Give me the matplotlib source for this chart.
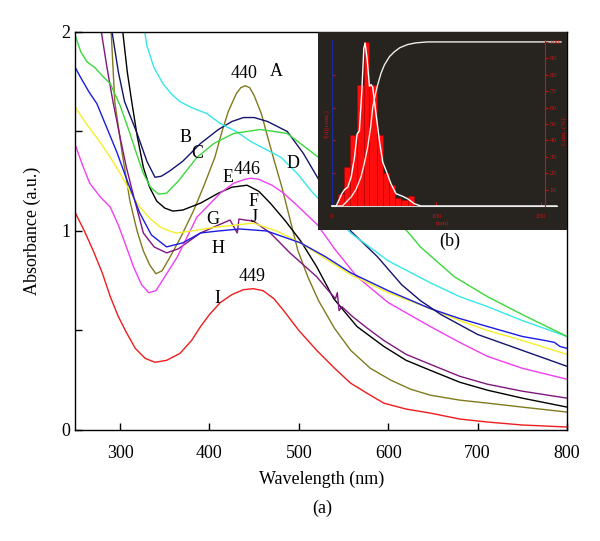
import matplotlib
matplotlib.use('Agg')
import matplotlib.pyplot as plt
import numpy as np

plt.rcParams['font.family'] = ['Liberation Serif', 'DejaVu Serif']

# ---- UV-vis spectra (wavelength nm, absorbance a.u.) ----
wl_A = [286, 290, 294, 302, 311, 319, 326, 333, 340, 347, 356, 368, 382, 394, 406, 414, 421, 430, 435, 440, 445, 450, 458, 464, 472, 481, 490, 499, 510, 522, 540, 558, 580, 603, 625, 647, 680, 711, 750, 800]
abs_A = [2.15, 2.0, 1.65, 1.40, 1.15, 1.0, 0.90, 0.83, 0.785, 0.80, 0.87, 0.97, 1.10, 1.23, 1.37, 1.50, 1.60, 1.69, 1.72, 1.73, 1.72, 1.68, 1.59, 1.49, 1.36, 1.22, 1.06, 0.90, 0.77, 0.65, 0.51, 0.40, 0.31, 0.25, 0.205, 0.175, 0.15, 0.135, 0.115, 0.09]

wl_B = [288, 291, 298, 305, 319, 330, 339, 346, 355, 370, 390, 410, 425, 438, 450, 465, 487, 505, 522, 540, 558, 588, 615, 636, 659, 700, 750, 800]
abs_B = [2.15, 2.0, 1.80, 1.65, 1.49, 1.35, 1.27, 1.275, 1.30, 1.35, 1.44, 1.51, 1.55, 1.57, 1.57, 1.55, 1.50, 1.39, 1.26, 1.13, 1.0, 0.87, 0.73, 0.65, 0.58, 0.48, 0.40, 0.32]

wl_C = [250, 256, 263, 272, 280, 289, 300, 311, 319, 326, 334, 343, 352, 365, 386, 405, 427, 457, 487, 522, 560, 600, 621, 636, 674, 711, 750, 800]
abs_C = [1.98, 1.90, 1.85, 1.82, 1.78, 1.74, 1.63, 1.49, 1.38, 1.29, 1.22, 1.185, 1.19, 1.25, 1.37, 1.44, 1.49, 1.51, 1.49, 1.37, 1.20, 1.08, 1.0, 0.92, 0.77, 0.67, 0.58, 0.47]

wl_D = [324, 330, 338, 348, 357, 367, 380, 397, 412, 430, 446, 463, 480, 498, 516, 537, 558, 600, 647, 680, 711, 750, 800]
abs_D = [2.1, 1.93, 1.82, 1.74, 1.69, 1.65, 1.62, 1.59, 1.54, 1.50, 1.45, 1.41, 1.37, 1.29, 1.19, 1.09, 0.99, 0.85, 0.74, 0.67, 0.62, 0.55, 0.47]

wl_E = [250, 258, 266, 278, 289, 298, 307, 315, 324, 332, 340, 350, 364, 375, 386, 397, 412, 427, 440, 446, 455, 470, 483, 500, 521, 540, 565, 600, 647, 680, 711, 750, 800]
abs_E = [1.43, 1.33, 1.24, 1.17, 1.12, 1.03, 0.92, 0.82, 0.73, 0.69, 0.70, 0.77, 0.87, 0.97, 1.07, 1.12, 1.19, 1.24, 1.26, 1.265, 1.26, 1.23, 1.19, 1.12, 1.03, 0.91, 0.77, 0.64, 0.52, 0.44, 0.37, 0.31, 0.255]

wl_F = [301, 303, 308, 313, 319, 326, 333, 341, 350, 359, 370, 390, 410, 425, 442, 455, 468, 485, 502, 520, 539, 565, 595, 620, 647, 680, 711, 750, 800]
abs_F = [2.15, 2.0, 1.80, 1.65, 1.48, 1.32, 1.22, 1.15, 1.115, 1.10, 1.105, 1.14, 1.19, 1.22, 1.23, 1.20, 1.14, 1.05, 0.95, 0.82, 0.66, 0.52, 0.42, 0.35, 0.30, 0.24, 0.20, 0.16, 0.115]

wl_G = [276, 279, 285, 292, 300, 307, 316, 326, 338, 352, 365, 390, 405, 423, 431, 433, 440, 449, 468, 490, 505, 520, 533, 541, 543, 545, 548, 560, 577, 595, 620, 647, 680, 711, 750, 800]
abs_G = [2.1, 2.0, 1.83, 1.65, 1.47, 1.32, 1.16, 0.99, 0.92, 0.89, 0.91, 0.99, 1.02, 1.055, 0.99, 1.06, 1.055, 1.05, 0.99, 0.89, 0.83, 0.77, 0.70, 0.66, 0.69, 0.60, 0.62, 0.57, 0.51, 0.45, 0.38, 0.33, 0.27, 0.23, 0.195, 0.16]

wl_H = [250, 256, 265, 274, 285, 296, 309, 322, 335, 352, 370, 390, 410, 434, 464, 502, 530, 558, 600, 647, 680, 711, 750, 775, 786, 792, 800]
abs_H = [1.82, 1.77, 1.70, 1.64, 1.52, 1.40, 1.24, 1.09, 0.98, 0.92, 0.94, 0.99, 1.0, 1.01, 1.0, 0.94, 0.87, 0.79, 0.70, 0.61, 0.56, 0.52, 0.47, 0.45, 0.44, 0.42, 0.41]

wl_J = [250, 262, 277, 289, 300, 311, 322, 334, 345, 355, 363, 380, 408, 430, 449, 475, 502, 530, 558, 600, 647, 680, 711, 750, 800]
abs_J = [1.62, 1.54, 1.45, 1.37, 1.29, 1.20, 1.12, 1.06, 1.02, 1.0, 0.99, 1.0, 1.02, 1.03, 1.04, 1.0, 0.94, 0.86, 0.78, 0.69, 0.61, 0.55, 0.50, 0.45, 0.38]

wl_I = [250, 260, 270, 280, 289, 298, 307, 317, 328, 339, 352, 367, 380, 390, 400, 412, 425, 438, 449, 460, 472, 483, 500, 520, 540, 558, 578, 595, 620, 647, 680, 711, 750, 800]
abs_I = [1.09, 1.0, 0.90, 0.79, 0.67, 0.57, 0.49, 0.41, 0.36, 0.34, 0.35, 0.385, 0.45, 0.52, 0.58, 0.64, 0.68, 0.705, 0.71, 0.70, 0.66, 0.60, 0.50, 0.40, 0.31, 0.235, 0.18, 0.135, 0.105, 0.085, 0.055, 0.04, 0.025, 0.015]

# curve labels: text, wavelength, absorbance
labels = [('440', 439, 1.79), ('A', 475, 1.80), ('B', 373, 1.47), ('C', 386, 1.39),
          ('D', 493, 1.34), ('E', 421, 1.27), ('446', 442, 1.31), ('F', 449, 1.15),
          ('G', 404, 1.06), ('J', 450, 1.07), ('H', 410, 0.91), ('449', 448, 0.77),
          ('I', 409, 0.66)]

# ---- inset: size distribution ----
bin_edges = [5.5, 11.5, 17.5, 23.7, 30.3, 35.3, 42.8, 48.6, 54.3, 60.2, 66.5, 72.4, 78.2]
bin_pct = [7, 24, 43, 74, 100, 74, 43, 20, 12.5, 5, 3.5, 6]
freq_d = [0, 4.1, 7.3, 9.5, 12.1, 15.2, 18.4, 21.6, 24.1, 26.3, 28.6, 30.5, 31.7, 33.6, 35.9, 37.5, 39, 42.2, 45.4, 48.6, 51.8, 56.5, 61.3, 67.6, 72.4, 78.7, 85, 215]
freq_p = [0, 0, 4.4, 7.5, 10, 11.5, 17.6, 29.7, 43.8, 45.9, 70, 96, 99.4, 90, 73, 74, 72.5, 56, 40, 26.7, 21.6, 13.5, 7.5, 5.9, 4.4, 1.4, 0, 0]
cum_d = [0, 10, 18.4, 23, 27.8, 31, 34.2, 37, 39, 41.5, 43.8, 47, 50.2, 55, 59.7, 65, 72.4, 80, 91.4, 219]
cum_p = [0, 0, 5.5, 10, 17.6, 26, 35.8, 48, 60, 68, 74, 81, 86, 91, 94, 96.5, 98.4, 99.4, 100, 100]

fig = plt.figure(figsize=(6, 5.41), dpi=100)
ax = fig.add_axes([0.1257, 0.2052, 0.8193, 0.7357])

series = [(wl_I, abs_I, '#ee1c1c'), (wl_A, abs_A, '#807a1e'), (wl_F, abs_F, 'black'),
          (wl_G, abs_G, '#80177f'), (wl_E, abs_E, '#f23ef2'), (wl_J, abs_J, '#f5ef2a'),
          (wl_H, abs_H, '#1c1ce0'), (wl_B, abs_B, '#14146e'), (wl_D, abs_D, '#35e8e8'),
          (wl_C, abs_C, '#3ad83a')]
for x, y, c in series:
    ax.plot(x, y, color=c, lw=1.0)

for t, x, y in labels:
    ax.text(x, y, t, fontsize=13, ha='center', va='center')

ax.set_xlim(250, 800)
ax.set_ylim(0, 2)
ax.set_xticks([300, 400, 500, 600, 700, 800])
ax.set_yticks([0, 1, 2])
ax.set_yticks([0.5, 1.5], minor=True)
ax.tick_params(direction='in', length=5, width=1, labelsize=13, top=False, right=False)
ax.tick_params(which='minor', direction='in', length=5, width=1)
ax.tick_params(axis='x', pad=11)
for s in ax.spines.values():
    s.set_linewidth(1.0)
ax.set_xlabel('Wavelength (nm)', fontsize=13, labelpad=6)
ax.set_ylabel('Absorbance (a.u.)', fontsize=13, labelpad=15)
fig.text(0.537, 0.061, '(a)', fontsize=13, ha='center', va='center')

# inset
ins = fig.add_axes([0.53, 0.575, 0.415, 0.366])
ins.set_facecolor('#27241f')
red = '#d01010'
ins.bar(bin_edges[:-1], bin_pct, width=np.diff(bin_edges), align='edge',
        color='#ff0d0d', edgecolor='#b00000', lw=0.4, zorder=2)
ins.plot(freq_d, freq_p, color='white', lw=1.0, zorder=3)
ins.plot(cum_d, cum_p, color='#f0ece4', lw=1.0, zorder=3)
ins.set_xlim(-13.3, 224.8)
ins.set_ylim(-14.6, 106.1)
for s in ['top', 'right']:
    ins.spines[s].set_visible(False)
ins.spines['left'].set_position(('data', 0))
ins.spines['left'].set_bounds(0, 101)
ins.spines['left'].set_color('#1a2a9a')
ins.spines['bottom'].set_position(('data', 0))
ins.spines['bottom'].set_bounds(0, 215)
ins.spines['bottom'].set_color('#cfcfcf')
ins.set_xticks([0, 100, 200])
ins.tick_params(axis='x', colors=red, labelsize=5, direction='in', length=3, pad=6)
ins.set_yticks([20, 40, 60, 80])
ins.tick_params(axis='y', colors=red, labelleft=False, direction='in', length=2)
ins.set_xlabel('(nm)', color=red, fontsize=5, labelpad=1)
ins.text(-5, 50, 'f(d)(cont.)', color=red, fontsize=5, rotation=90, ha='center', va='center')

cum = ins.twinx()
cum.set_ylim(-14.6, 106.1)
for s in ['top', 'left', 'bottom']:
    cum.spines[s].set_visible(False)
cum.spines['right'].set_position(('data', 204))
cum.spines['right'].set_bounds(0, 101)
cum.spines['right'].set_color(red)
cum.set_yticks(range(10, 101, 10))
cum.tick_params(axis='y', colors=red, labelsize=5, direction='out', length=2, pad=1)
cum.set_ylabel('Cum. (%)', color=red, fontsize=5, labelpad=1)

fig.text(0.75, 0.553, '(b)', fontsize=13, ha='center', va='center')

fig.savefig('out.png', dpi=100)
